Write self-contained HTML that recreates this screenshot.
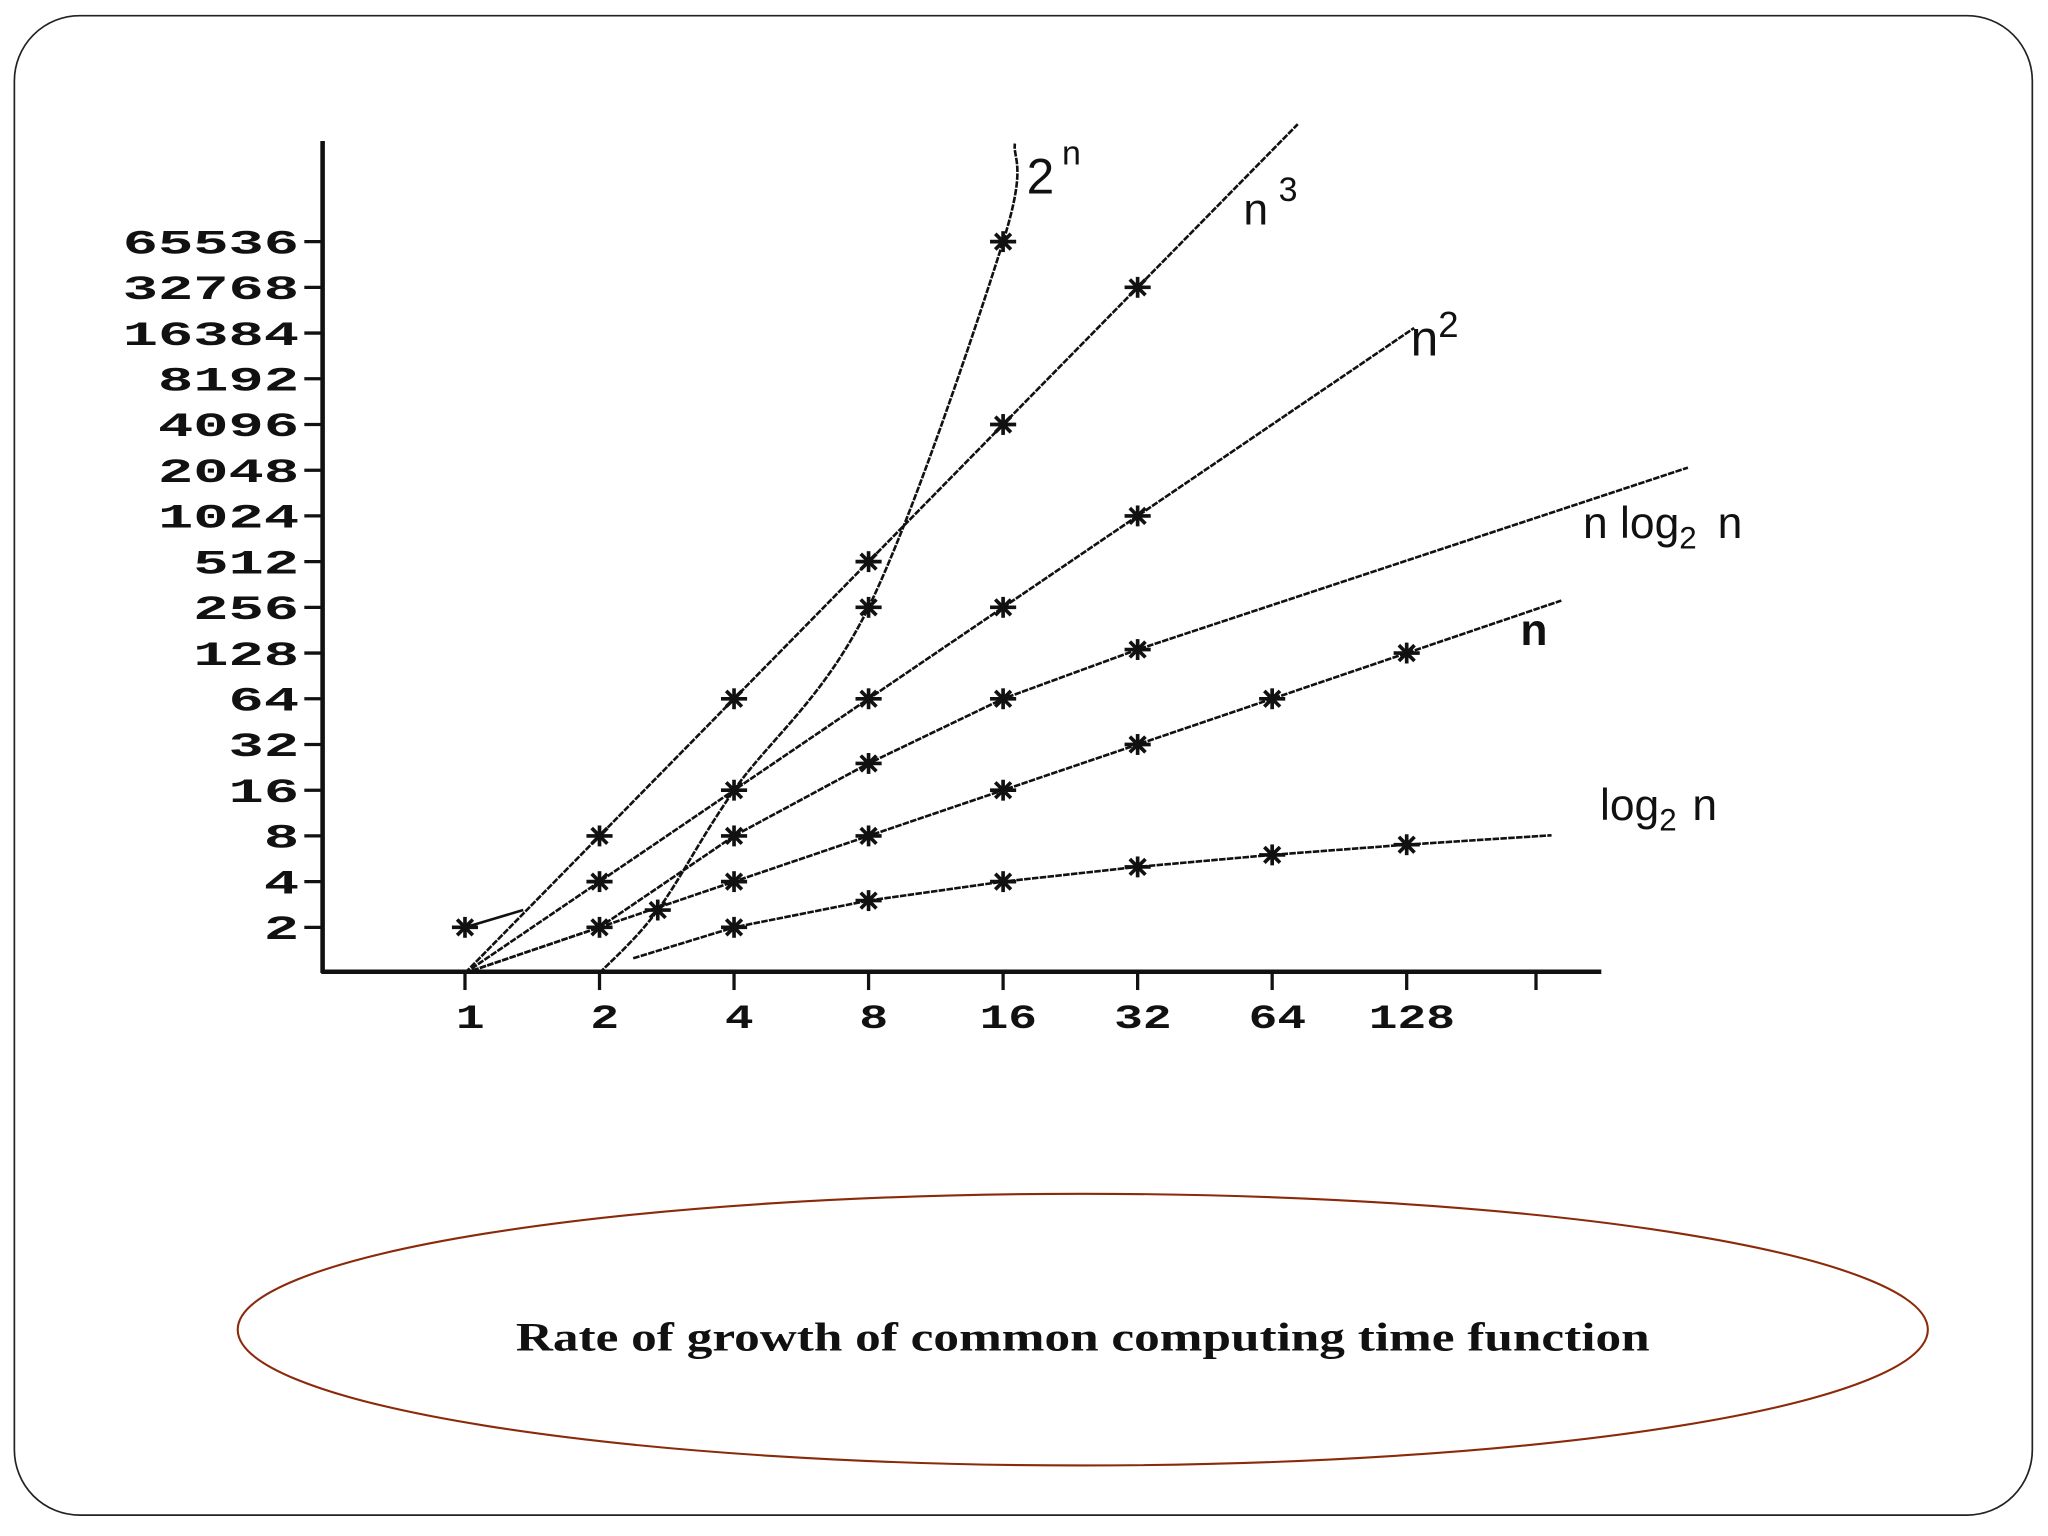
<!DOCTYPE html>
<html><head><meta charset="utf-8"><style>
html,body{margin:0;padding:0;background:#fff;}
svg{display:block;}
</style></head><body>
<svg id="chart" width="2048" height="1536" viewBox="0 0 1568 1176" xmlns="http://www.w3.org/2000/svg">
<rect x="11" y="12" width="1545" height="1148" rx="50" ry="50" fill="#fff" stroke="#222" stroke-width="1.3"/>
<g id="axes"></g>
<g id="series"></g>
<g font-family="'Liberation Sans', sans-serif" fill="#111">
<text x="786" y="148" font-size="38">2<tspan dx="6" dy="-22" font-size="26">n</tspan></text>
<text x="952" y="172" font-size="34">n<tspan dx="8" dy="-18" font-size="26">3</tspan></text>
<text x="1080" y="272" font-size="38">n<tspan dy="-14" font-size="28">2</tspan></text>
<text x="1212" y="412" font-size="34">n log<tspan dy="8" font-size="24">2</tspan><tspan dy="-8" dx="16">n</tspan></text>
<text x="1164" y="494" font-size="34" font-weight="bold">n</text>
<text x="1225" y="628" font-size="34">log<tspan dy="8" font-size="24">2</tspan><tspan dy="-8" dx="12">n</tspan></text>
</g>
<ellipse cx="829" cy="1018" rx="647" ry="104" fill="none" stroke="#8b2a0a" stroke-width="1.6"/>
<text x="829" y="1034" text-anchor="middle" font-family="'Liberation Serif', serif" font-weight="bold" font-size="31" textLength="868" lengthAdjust="spacingAndGlyphs" fill="#111">Rate of growth of common computing time function</text>
</svg>
<script>
const yTickValues = [2,4,8,16,32,64,128,256,512,1024,2048,4096,8192,16384,32768,65536];
const xTickValues = [1,2,4,8,16,32,64,128];
const log2N = [2.38,4,8,16,32,64,128,270];
const log2V = [1.25,2,3,4,5,6,7,8.08];
const linN = [1,2,4,8,16,32,64,128,284];
const linV = [1,2,4,8,16,32,64,128,284];
const nlognN = [1,2,4,8,16,32,545];
const nlognV = [1,2,8,24,64,135,2130];
const sqN = [1,2,4,8,16,32,133];
const sqV = [1,4,16,64,256,1024,17700];
const cubeN = [1,2,4,8,16,32,73];
const cubeV = [1,8,64,512,4096,32768,389000];
const powN = [1,1.35];
const powV = [2,2.6];
const pow2CurveN = [2,2.7,4,8,16,17];
const pow2CurveV = [1,2.6,16,256,65536,290000];

const NS='http://www.w3.org/2000/svg';
const xs = n => 356 + 103*Math.log2(n);
const ys = v => 745 - 35*Math.log2(v);
const axes = document.getElementById('axes');
const ser = document.getElementById('series');
function mk(tag, attrs, parent){const e=document.createElementNS(NS,tag);for(const k in attrs)e.setAttribute(k,attrs[k]);parent.appendChild(e);return e;}

let e = mk('line',{x1:247,y1:108,x2:247,y2:745,stroke:'#111','stroke-width':3.5},axes);


e = mk('line',{x1:246,y1:744,x2:1226,y2:744,stroke:'#111','stroke-width':3.5},axes);



yTickValues.forEach(v=>{
  const y=ys(v);
  let t=mk('line',{x1:233,y1:y,x2:247,y2:y,stroke:'#111','stroke-width':2.5},axes);
  
  
  const s=String(v);
  let l=mk('text',{x:229,y:y+9,'text-anchor':'end','font-family':'Liberation Mono, monospace','font-weight':'bold','font-size':26,fill:'#111',textLength:s.length*27,lengthAdjust:'spacingAndGlyphs'},axes);
  l.textContent=s;
  
  
});
xTickValues.concat([256]).forEach((n,i)=>{
  const x=xs(n)-(n===256?4:0);
  let t=mk('line',{x1:x,y1:744,x2:x,y2:758,stroke:'#111','stroke-width':2.5},axes);
  
  
  if(n===256) return;
  const s=String(n);
  let l=mk('text',{x:x+4,y:787,'text-anchor':'middle','font-family':'Liberation Mono, monospace','font-weight':'bold','font-size':26,fill:'#111',textLength:s.length*22,lengthAdjust:'spacingAndGlyphs'},axes);
  l.textContent=s;
  
  
});

function marker(name,x,y){
  const g=mk('g',{stroke:'#111','stroke-width':2.8},ser);
  
  
  mk('line',{x1:x-10,y1:y,x2:x+10,y2:y},g);
  mk('line',{x1:x,y1:y-8,x2:x,y2:y+8},g);
  mk('line',{x1:x-6,y1:y-6,x2:x+6,y2:y+6},g);
  mk('line',{x1:x-6,y1:y+6,x2:x+6,y2:y-6},g);
}
function series(name, ns, vs, markIdx){
  const pts=ns.map((n,i)=>xs(n).toFixed(1)+','+ys(vs[i]).toFixed(1)).join(' ');
  let p=mk('polyline',{points:pts,fill:'none',stroke:'#111','stroke-width':2,'stroke-dasharray':'5 1'},ser);
  
  
  markIdx.forEach(i=>marker(name,xs(ns[i]),ys(vs[i])));
}
series('log2n', log2N, log2V, [1,2,3,4,5,6]);
series('n', linN, linV, [1,2,3,4,5,6,7]);
series('nlogn', nlognN, nlognV, [2,3,4,5]);
series('n-squared', sqN, sqV, [1,2,3,4,5]);
series('n-cubed', cubeN, cubeV, [1,2,3,4,5]);
(function(){
  let p=mk('polyline',{points:powN.map((n,i)=>xs(n)+','+ys(powV[i])).join(' '),fill:'none',stroke:'#111','stroke-width':2},ser);
  
  
  marker('2n',xs(powN[0]),ys(powV[0]));
  const pts=pow2CurveN.map((n,i)=>[xs(n),ys(pow2CurveV[i])]);
  let d='M'+pts[0][0]+','+pts[0][1];
  for(let i=1;i<pts.length;i++){
    const p0=pts[Math.max(0,i-2)],p1=pts[i-1],p2=pts[i],p3=pts[Math.min(pts.length-1,i+1)];
    const c1=[p1[0]+(p2[0]-p0[0])/6,p1[1]+(p2[1]-p0[1])/6];
    const c2=[p2[0]-(p3[0]-p1[0])/6,p2[1]-(p3[1]-p1[1])/6];
    d+=' C'+c1+' '+c2+' '+p2;
  }
  let c=mk('path',{d:d,fill:'none',stroke:'#111','stroke-width':2,'stroke-dasharray':'5 1'},ser);
  
  
  [1,3,4].forEach(i=>marker('2n',xs(pow2CurveN[i]),ys(pow2CurveV[i])));
})();
</script>
</body></html>
